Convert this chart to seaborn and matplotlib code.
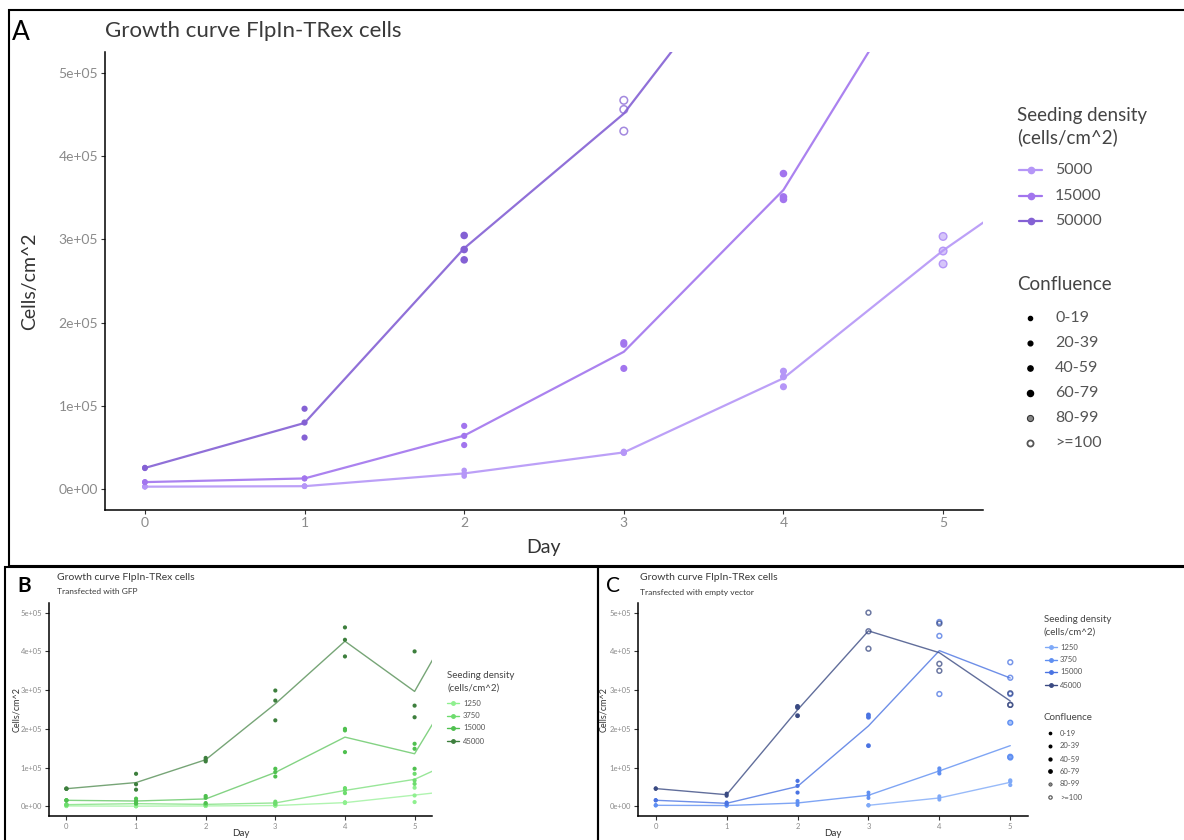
import matplotlib
matplotlib.use("Agg")
import matplotlib.pyplot as plt
import matplotlib.ticker as mticker
from matplotlib.lines import Line2D
from matplotlib.patches import Rectangle
import pandas as pd
import seaborn as sns

# ---------------- data ----------------
DAYS = [0, 1, 2, 3, 4, 5, 6]
CONF_LEVELS = ["0-19", "20-39", "40-59", "60-79", "80-99", ">=100"]

# panel A: untransfected, three replicates per day (day 6 / out-of-range values only drive the clipped lines)
a_5000 = [[2800, 3000, 3200], [3400, 3600, 3800], [22600, 18500, 15700], [44000, 45000, 43500],
          [141700, 135000, 123000], [303500, 286000, 270500], [420000, 420000, 420000]]
a_15000 = [[8200, 8500, 8800], [12500, 12900, 13300], [76000, 64000, 53000], [176000, 174000, 145000],
           [379000, 351000, 348000], [670000, 670000, 670000], None]
a_50000 = [[25000, 25500, 26000], [96600, 80000, 62000], [304700, 287800, 275400], [467000, 456000, 430000],
           [700000, 700000, 700000], None, None]
a_conf_5000 = ["0-19", "0-19", "0-19", "20-39", "40-59", "80-99", ">=100"]
a_conf_15000 = ["0-19", "0-19", "20-39", "40-59", "60-79", ">=100", None]
a_conf_50000 = ["0-19", "20-39", "60-79", ">=100", ">=100", None, None]

# panel B: transfected with GFP
b_1250 = [[500, 1000, 1500], [200, 400, 600], [800, 1000, 1200], [1800, 2000, 2300],
          [8500, 9500, 10500], [48000, 28000, 11000], [49000, 49000, 49000]]
b_3750 = [[4000, 4300, 4600], [6500, 6900, 7300], [4500, 5000, 5500], [12000, 8000, 6000],
          [47000, 42000, 34000], [84000, 67000, 58000], [152000, 152000, 152000]]
b_15000 = [[15000, 15500, 16000], [19800, 13700, 7600], [26600, 22000, 8400], [97000, 88500, 77000],
           [200000, 196000, 140000], [161500, 148600, 97000], [433000, 433000, 433000]]
b_45000 = [[45000, 45500, 46000], [84000, 57000, 43000], [125000, 120000, 116000], [299000, 273000, 222000],
           [462000, 430000, 387000], [400000, 260000, 230000], [613000, 613000, 613000]]

# panel C: transfected with empty vector
c_1250 = [None, None, None, [2000, 2600, 3200], [26000, 21600, 17200], [67000, 64000, 55000], None]
c_3750 = [[2000, 2600, 3200], [1500, 2000, 2500], [13800, 8600, 3400], [35500, 28500, 21500],
          [97800, 91700, 84800], [216000, 128000, 126000], None]
c_15000 = [[15000, 15600, 16200], [10000, 7800, 5600], [65700, 52800, 35500], [236000, 230000, 156600],
           [476000, 440000, 290000], [372000, 332000, 290000], None]
c_45000 = [[45000, 45800, 46600], [33000, 30000, 27000], [258000, 255000, 234000], [500000, 452000, 407000],
           [472000, 368000, 350000], [292000, 262000, 262000], None]
c_conf_1250 = [None, None, None, "0-19", "0-19", "20-39", None]
c_conf_3750 = ["0-19", "0-19", "0-19", "0-19", "20-39", "80-99", None]
c_conf_15000 = ["0-19", "0-19", "20-39", "60-79", ">=100", ">=100", None]
c_conf_45000 = ["0-19", "0-19", "60-79", ">=100", ">=100", ">=100", None]

A_LEVELS = ["5000", "15000", "50000"]
BC_LEVELS = ["1250", "3750", "15000", "45000"]

PAL_A = {"5000": "#b596f7", "15000": "#a275ee", "50000": "#8461d4"}
PAL_B = {"1250": "#8ff08f", "3750": "#6ddc6d", "15000": "#4fc04f", "45000": "#3d7f3d"}
PAL_C = {"1250": "#7ea9f8", "3750": "#5f8ff2", "15000": "#4a73e2", "45000": "#3a4a82"}


def make_df(levels, series, confs=None):
    rows = []
    for i, (lev, reps) in enumerate(zip(levels, series)):
        for j, (day, vals) in enumerate(zip(DAYS, reps)):
            if vals is None:
                continue
            conf = confs[i][j] if confs is not None else "0-19"
            for v in vals:
                rows.append({"Day": day, "Cells": v, "Density": lev, "Confluence": conf})
    return pd.DataFrame(rows)


df_a = make_df(A_LEVELS, [a_5000, a_15000, a_50000], [a_conf_5000, a_conf_15000, a_conf_50000])
df_b = make_df(BC_LEVELS, [b_1250, b_3750, b_15000, b_45000])
df_c = make_df(BC_LEVELS, [c_1250, c_3750, c_15000, c_45000],
               [c_conf_1250, c_conf_3750, c_conf_15000, c_conf_45000])

# ---------------- drawing ----------------
sns.set_theme(style="white")
plt.rcParams["font.family"] = ["Lato", "DejaVu Sans"]

W, H = 1184, 840
fig = plt.figure(figsize=(W / 100, H / 100), dpi=100)


def px(x, y):
    return x / W, 1 - y / H


def draw_panel(ax, df, levels, pal, sizes, lw, tick_fs, line_alpha):
    sns.lineplot(data=df, x="Day", y="Cells", hue="Density", hue_order=levels, palette=pal,
                 estimator="mean", errorbar=None, legend=False, lw=lw, alpha=line_alpha, ax=ax)
    for conf in CONF_LEVELS:
        sub = df[df["Confluence"] == conf]
        if sub.empty:
            continue
        sns.scatterplot(data=sub, x="Day", y="Cells", hue="Density", hue_order=levels, palette=pal,
                        s=sizes[conf], linewidth=0, legend=False, ax=ax, zorder=3)
        coll = ax.collections[-1]
        fc = coll.get_facecolors().copy()
        if conf == ">=100":
            fc[:, 3] = 0.75
            coll.set_facecolors("none")
            coll.set_edgecolors(fc)
            coll.set_linewidths(1.1)
        elif conf == "80-99":
            light = fc.copy()
            light[:, 3] = 0.55
            coll.set_facecolors(light)
            coll.set_edgecolors(fc)
            coll.set_linewidths(1.0)
    ax.set_xlim(-0.25, 5.25)
    ax.set_ylim(-25000, 525000)
    ax.set_xticks(range(6))
    ax.set_yticks([0, 1e5, 2e5, 3e5, 4e5, 5e5])
    ax.yaxis.set_major_formatter(mticker.FuncFormatter(lambda v, p: f"{v:.0e}"))
    ax.set_xlabel("")
    ax.set_ylabel("")
    sns.despine(ax=ax)
    for s in ("left", "bottom"):
        ax.spines[s].set_color("black")
        ax.spines[s].set_linewidth(1.1)
    ax.tick_params(axis="both", which="both", bottom=True, left=True, length=3, width=0.8,
                   color="#333333", labelcolor="#8a8a8a", labelsize=tick_fs, pad=2)


def legend_title(x, ys, lines, fs):
    for y, t in zip(ys, lines):
        fig.text(*px(x, y), t, fontsize=fs, color="#444444", va="center", ha="left")


def density_legend(x_line, x_text, ys, levels, pal, ms, lw, fs):
    for y, lev in zip(ys, levels):
        fx0, fy = px(x_line[0], y)
        fx1, _ = px(x_line[1], y)
        fig.add_artist(Line2D([fx0, fx1], [fy, fy], transform=fig.transFigure, color=pal[lev], lw=lw))
        fig.add_artist(Line2D([(fx0 + fx1) / 2], [fy], transform=fig.transFigure, ls="",
                              marker="o", ms=ms, color=pal[lev]))
        fig.text(*px(x_text, y), lev, fontsize=fs, color="#555555", va="center", ha="left")


def confluence_legend(x_mark, x_text, ys, scale, fs):
    ms = [3.0, 3.4, 3.8, 4.4, 4.4, 4.4]
    for y, conf, m in zip(ys, CONF_LEVELS, ms):
        fx, fy = px(x_mark, y)
        if conf == ">=100":
            kw = dict(mfc="white", mec="#555555", mew=1.0 * scale + 0.3)
        elif conf == "80-99":
            kw = dict(mfc="#888888", mec="#333333", mew=0.8 * scale)
        else:
            kw = dict(color="black")
        fig.add_artist(Line2D([fx], [fy], transform=fig.transFigure, ls="", marker="o", ms=m * scale, **kw))
        fig.text(*px(x_text, y), conf, fontsize=fs, color="#555555", va="center", ha="left")


# ---- panel A ----
ax_a = fig.add_axes([105 / W, 1 - 510 / H, (983 - 105) / W, (510 - 52) / H])
sizes_a = {"0-19": 16, "20-39": 20, "40-59": 26, "60-79": 30, "80-99": 30, ">=100": 30}
draw_panel(ax_a, df_a, A_LEVELS, PAL_A, sizes_a, 1.6, 10, 0.9)
fig.text(*px(12, 33), "A", fontsize=19, color="black", va="center", ha="left")
fig.text(*px(105, 31), "Growth curve FlpIn-TRex cells", fontsize=16, color="#3a3a3a", va="center", ha="left")
fig.text(*px(30, 281), "Cells/cm^2", fontsize=14, color="#333333", rotation=90, va="center", ha="center")
fig.text(*px(543, 547), "Day", fontsize=14, color="#333333", va="center", ha="center")
legend_title(1017, [116, 137], ["Seeding density", "(cells/cm^2)"], 13.5)
density_legend((1019, 1042), 1055, [170, 196, 221], A_LEVELS, PAL_A, 4.5, 1.6, 11.5)
legend_title(1017, [285], ["Confluence"], 13.5)
confluence_legend(1030, 1055, [318, 343, 368, 393, 418, 443], 1.0, 11.5)

# ---- panel B ----
ax_b = fig.add_axes([49 / W, 1 - 816 / H, (432 - 49) / W, (816 - 603) / H])
sizes_b = {c: 9 for c in CONF_LEVELS}
draw_panel(ax_b, df_b, BC_LEVELS, PAL_B, sizes_b, 1.0, 5.5, 0.7)
fig.text(*px(17, 586), "B", fontsize=15, fontweight="bold", color="black", va="center", ha="left")
fig.text(*px(57, 577), "Growth curve FlpIn-TRex cells", fontsize=7.5, color="#3a3a3a", va="center", ha="left")
fig.text(*px(57, 592), "Transfected with GFP", fontsize=6, color="#3a3a3a", va="center", ha="left")
fig.text(*px(17, 710), "Cells/cm^2", fontsize=6.5, color="#333333", rotation=90, va="center", ha="center")
fig.text(*px(241, 833), "Day", fontsize=7, color="#333333", va="center", ha="center")
legend_title(447, [676, 688], ["Seeding density", "(cells/cm^2)"], 7)
density_legend((447, 459), 463, [703, 716, 728, 741], BC_LEVELS, PAL_B, 2.5, 1.0, 5.5)

# ---- panel C ----
ax_c = fig.add_axes([638 / W, 1 - 816 / H, (1028 - 638) / W, (816 - 603) / H])
sizes_c = {"0-19": 8, "20-39": 9, "40-59": 10, "60-79": 12, "80-99": 12, ">=100": 12}
draw_panel(ax_c, df_c, BC_LEVELS, PAL_C, sizes_c, 1.0, 5.5, 0.8)
fig.text(*px(606, 586), "C", fontsize=15, color="black", va="center", ha="left")
fig.text(*px(640, 577), "Growth curve FlpIn-TRex cells", fontsize=7.5, color="#3a3a3a", va="center", ha="left")
fig.text(*px(640, 592), "Transfected with empty vector", fontsize=6, color="#3a3a3a", va="center", ha="left")
fig.text(*px(604, 710), "Cells/cm^2", fontsize=6.5, color="#333333", rotation=90, va="center", ha="center")
fig.text(*px(833, 833), "Day", fontsize=7, color="#333333", va="center", ha="center")
legend_title(1044, [620, 632], ["Seeding density", "(cells/cm^2)"], 7)
density_legend((1045, 1057), 1060, [647, 660, 672, 685], BC_LEVELS, PAL_C, 2.5, 1.0, 5.5)
legend_title(1044, [717], ["Confluence"], 7)
confluence_legend(1050, 1060, [733, 746, 759, 771, 784, 797], 0.55, 5.5)

# panel borders
for (x0, y0, x1, y1) in [(9, 10, 1190, 566), (5, 567, 598, 845), (598, 567, 1190, 845)]:
    fig.add_artist(Rectangle(px(x0, y1), (x1 - x0) / W, (y1 - y0) / H, transform=fig.transFigure,
                             fill=False, ec="black", lw=1.5, clip_on=False))

fig.savefig("out.png", dpi=100)
